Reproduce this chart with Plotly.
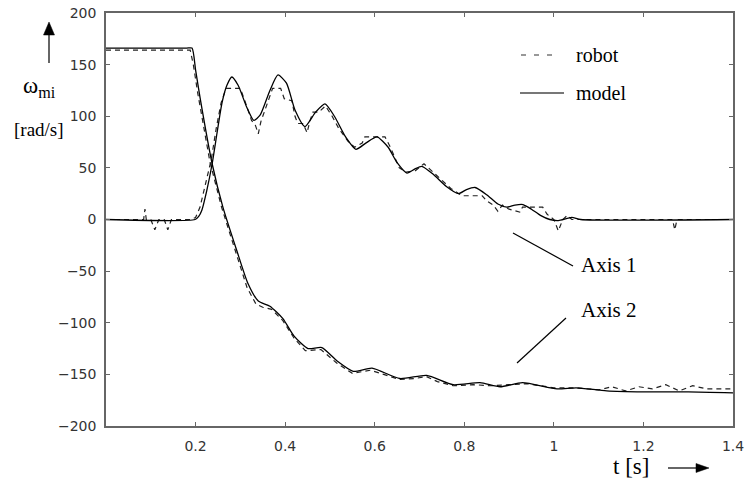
import plotly.graph_objects as go

# ---------------- data ----------------
t_model1 = [0, 0.199, 0.207, 0.214, 0.225, 0.237, 0.248, 0.259, 0.27, 0.281, 0.295, 0.314, 0.33, 0.344,
            0.366, 0.384, 0.403, 0.422, 0.444, 0.468, 0.489, 0.51, 0.535, 0.558, 0.58, 0.605, 0.63, 0.65,
            0.672, 0.69, 0.705, 0.73, 0.76, 0.787, 0.805, 0.824, 0.85, 0.875, 0.895, 0.913, 0.931, 0.95,
            0.97, 0.991, 1.01, 1.04, 1.06, 1.4]
w_model1 = [0, 0, 3, 9, 28, 54, 84, 113, 130, 138, 130, 109, 96, 101,
            125, 140, 132, 106, 90, 104, 112, 100, 80, 68, 74, 80, 70, 55,
            45, 49, 51.5, 44, 32, 25, 29, 31, 24, 15, 12, 14, 14.5, 10,
            4, 0, -1, 2, 0, 0]

t_model2 = [0, 0.18, 0.192, 0.2, 0.21, 0.237, 0.261, 0.292, 0.317, 0.34, 0.366, 0.395, 0.42, 0.451,
            0.482, 0.516, 0.552, 0.594, 0.656, 0.716, 0.775, 0.835, 0.88, 0.93, 1.007, 1.05, 1.118,
            1.2, 1.3, 1.4]
w_model2 = [166, 166, 166, 145, 118, 54, 12, -30, -62, -79, -84, -96, -113, -125,
            -124, -137, -147, -144, -154, -151, -160, -158, -162, -158, -164, -163, -166,
            -167, -167, -168]

t_robot1 = [0, 0.084, 0.087, 0.09, 0.1, 0.109, 0.118, 0.13, 0.138, 0.146, 0.19, 0.2, 0.21, 0.222,
            0.235, 0.246, 0.257, 0.268, 0.3, 0.31, 0.325, 0.333, 0.34, 0.346, 0.36, 0.372, 0.39,
            0.398, 0.415, 0.422, 0.428, 0.44, 0.449, 0.455, 0.462, 0.475, 0.49, 0.505, 0.52, 0.54,
            0.555, 0.572, 0.578, 0.623, 0.635, 0.645, 0.655, 0.67, 0.69, 0.71, 0.72, 0.74, 0.77,
            0.795, 0.84, 0.85, 0.865, 0.875, 0.885, 0.9, 0.915, 0.925, 0.93, 0.975, 0.985, 1.0,
            1.01, 1.02, 1.03, 1.04, 1.265, 1.27, 1.275, 1.4]
w_robot1 = [0, 0, 10, 0, 0, -10, 0, 0, -10, 0, 0, 2, 12, 33,
            58, 88, 113, 127, 127, 115, 96, 92, 83, 95, 113, 127, 127,
            117, 115, 100, 93, 93, 84, 95, 104, 104, 110, 100, 88, 76,
            70, 74, 80, 80, 70, 60, 50, 46, 47, 54, 50, 42, 30,
            23, 23, 18, 14, 8, 14, 10, 8, 7, 12, 12, 5, 0,
            -11, 0, 4, 0, 0, -10, 0, 0]

t_robot2 = [0, 0.188, 0.195, 0.205, 0.232, 0.258, 0.29, 0.315, 0.335, 0.35, 0.37, 0.395, 0.42, 0.445,
            0.48, 0.515, 0.55, 0.59, 0.62, 0.655, 0.69, 0.715, 0.74, 0.775, 0.82, 0.86, 0.9, 0.94,
            0.97, 1.0, 1.05, 1.1, 1.13, 1.16, 1.19, 1.22, 1.25, 1.28, 1.31, 1.34, 1.4]
w_robot2 = [164, 164, 150, 122, 56, 12, -32, -66, -82, -85, -87, -98, -115, -127,
            -126, -139, -149, -146, -150, -155, -154, -152, -157, -161, -160, -161, -160, -159,
            -161, -163, -163, -165, -162, -166, -162, -164, -160, -166, -161, -164, -164]

x_ticks = [0.2, 0.4, 0.6, 0.8, 1.0, 1.2, 1.4]
x_labels = ["0.2", "0.4", "0.6", "0.8", "1", "1.2", "1.4"]
y_ticks = [-200, -150, -100, -50, 0, 50, 100, 150, 200]

# ---------------- figure ----------------
W, H = 746, 480
L, R, T, B = 106, 13, 13, 54


def px(x):
    return (x - L) / (W - L - R)


def py(y):
    return (H - B - y) / (H - T - B)


SERIF = "Liberation Serif, Times New Roman, serif"

fig = go.Figure()
robot_line = dict(color="#222", width=1.2, dash="5px,4px")
model_line = dict(color="black", width=1.3)
fig.add_trace(go.Scatter(x=t_robot1, y=w_robot1, mode="lines", line=robot_line, name="robot", showlegend=False))
fig.add_trace(go.Scatter(x=t_robot2, y=w_robot2, mode="lines", line=robot_line, name="robot", showlegend=False))
fig.add_trace(go.Scatter(x=t_model1, y=w_model1, mode="lines", line=model_line, line_shape="spline",
                         line_smoothing=0.6, name="model", showlegend=False))
fig.add_trace(go.Scatter(x=t_model2, y=w_model2, mode="lines", line=model_line, line_shape="spline",
                         line_smoothing=0.6, name="model", showlegend=False))

axis_common = dict(showgrid=False, zeroline=False, showline=True, linecolor="#666", linewidth=1.5,
                   mirror="ticks", ticks="inside", ticklen=4, tickcolor="#666", tickwidth=1,
                   automargin=False,
                   tickfont=dict(family="DejaVu Sans", size=14, color="#333"))
fig.update_xaxes(range=[0, 1.4], tickvals=x_ticks, ticktext=x_labels, ticklabelstandoff=6, **axis_common)
fig.update_yaxes(range=[-200, 200], tickvals=y_ticks, ticklabelstandoff=5, **axis_common)

shapes = []
ann = []
# up arrow (y label)
shapes.append(dict(type="line", xref="paper", yref="paper", x0=px(49), x1=px(49), y0=py(63), y1=py(34),
                   line=dict(color="#333", width=1.5)))
shapes.append(dict(type="path", xref="paper", yref="paper",
                   path=f"M{px(43.5)},{py(35)} L{px(54.5)},{py(35)} L{px(49)},{py(22)} Z",
                   fillcolor="black", line=dict(color="black", width=0.5)))
# right arrow (x label)
shapes.append(dict(type="line", xref="paper", yref="paper", x0=px(668), x1=px(698), y0=py(468), y1=py(468),
                   line=dict(color="black", width=1.2)))
shapes.append(dict(type="path", xref="paper", yref="paper",
                   path=f"M{px(696)},{py(463.5)} L{px(696)},{py(472.5)} L{px(709)},{py(468)} Z",
                   fillcolor="black", line=dict(color="black", width=0.5)))
# legend samples
shapes.append(dict(type="line", xref="paper", yref="paper", x0=px(521), x1=px(559), y0=py(55), y1=py(55),
                   line=dict(color="#333", width=1.2, dash="5px,8px")))
shapes.append(dict(type="line", xref="paper", yref="paper", x0=px(520), x1=px(564), y0=py(93), y1=py(93),
                   line=dict(color="#777", width=2)))
# leader lines
shapes.append(dict(type="line", xref="paper", yref="paper", x0=px(513), y0=py(233), x1=px(573), y1=py(266),
                   line=dict(color="black", width=1.2)))
shapes.append(dict(type="line", xref="paper", yref="paper", x0=px(566), y0=py(318), x1=px(517), y1=py(363),
                   line=dict(color="black", width=1.2)))


def text(s, x, y, size, anchor="left"):
    ann.append(dict(text=s, xref="paper", yref="paper", x=px(x), y=py(y), xanchor=anchor, yanchor="middle",
                    showarrow=False, font=dict(family=SERIF, size=size, color="black")))


text("ω<sub>mi</sub>", 21, 87, 23)
text("[rad/s]", 12, 129, 19)
text("robot", 574, 55, 20)
text("model", 574, 93, 20)
text("Axis 1", 579, 265, 21)
text("Axis 2", 579, 310, 21)
text("t [s]", 611, 467, 23)

fig.update_layout(width=W, height=H, margin=dict(l=L, r=R, t=T, b=B), plot_bgcolor="white",
                  paper_bgcolor="white", shapes=shapes, annotations=ann, showlegend=False)
fig.write_html("out.html", config={"displayModeBar": False},
               post_script="document.body.style.margin='0';document.body.style.overflow='hidden';")
